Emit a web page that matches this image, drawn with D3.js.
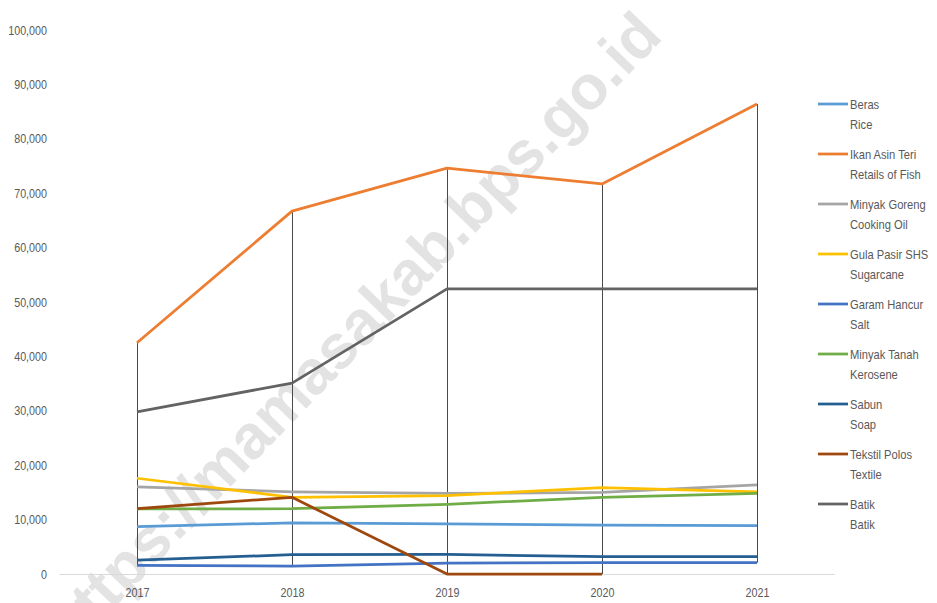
<!DOCTYPE html>
<html>
<head>
<meta charset="utf-8">
<script src="https://cdn.jsdelivr.net/npm/d3@7"></script>
<style>
  body { margin: 0; background: #fff; }
  svg text { font-family: "Liberation Sans", Arial, sans-serif; fill: #595959; }
</style>
</head>
<body>
<svg id="chart" width="937" height="603"></svg>
<script>
// data
var years = ["2017", "2018", "2019", "2020", "2021"];
var yTicks = [0, 10000, 20000, 30000, 40000, 50000, 60000, 70000, 80000, 90000, 100000];

var names = ["Beras", "Ikan Asin Teri", "Minyak Goreng", "Gula Pasir SHS", "Garam Hancur",
             "Minyak Tanah", "Sabun", "Tekstil Polos", "Batik"];
var namesEn = ["Rice", "Retails of Fish", "Cooking Oil", "Sugarcane", "Salt",
               "Kerosene", "Soap", "Textile", "Batik"];
var colors = ["#5B9BD5", "#ED7D31", "#A5A5A5", "#FFC000", "#4472C4",
              "#70AD47", "#255E91", "#9E480E", "#636363"];

var beras = [8700, 9400, 9200, 9000, 8900];
var ikanAsin = [42500, 66700, 74600, 71700, 86400];
var minyakGoreng = [16000, 15100, 14800, 15000, 16400];
var gulaPasir = [17600, 14100, 14400, 15900, 15100];
var garam = [1600, 1450, 2000, 2100, 2100];
var minyakTanah = [11950, 12000, 12800, 14100, 14800];
var sabun = [2550, 3550, 3600, 3200, 3200];
var tekstil = [12000, 14100, 0, 0, null];
var batik = [29800, 35100, 52400, 52400, 52400];

var seriesValues = [beras, ikanAsin, minyakGoreng, gulaPasir, garam, minyakTanah, sabun, tekstil, batik];

// no narrow font installed, so squeeze text a bit to look like Calibri
var squeeze = "scale(0.86,1)";

var svg = d3.select("#chart");

var x = d3.scalePoint().domain(years).range([59.5, 834.5]).padding(0.5);
var y = d3.scaleLinear().domain([0, 100000]).range([574, 30]);

// watermark
svg.append("text")
    .attr("transform", "translate(352,330) rotate(-46)")
    .attr("text-anchor", "middle")
    .attr("dominant-baseline", "central")
    .style("font-weight", "bold")
    .style("font-size", "62px")
    .style("fill", "#e3e3e3")
    .text("https://mamasakab.bps.go.id");

// y axis labels
var yAxis = d3.axisLeft(y).tickValues(yTicks).tickSize(0).tickPadding(0)
    .tickFormat(d3.format(","));
var gy = svg.append("g").attr("transform", "translate(47,0)").call(yAxis);
gy.select(".domain").remove();
gy.selectAll("text")
    .attr("transform", squeeze)
    .style("font-size", "12.5px").style("fill", "#595959");

// x axis
var xAxis = d3.axisBottom(x).tickSize(0).tickPadding(14);
var gx = svg.append("g").attr("transform", "translate(0,574)").call(xAxis);
gx.select(".domain").attr("d", "M59.5,0.5H834.5").style("stroke", "#d9d9d9");
gx.selectAll("text")
    .attr("transform", squeeze)
    .style("font-size", "12.5px").style("fill", "#595959");

// high-low lines
var hiLo = years.map(function (yr, i) {
    var vals = seriesValues.map(function (s) { return s[i]; })
        .filter(function (v) { return v !== null; });
    return { year: yr, hi: d3.max(vals), lo: d3.min(vals) };
});
svg.append("g").selectAll("line").data(hiLo).enter().append("line")
    .attr("x1", function (d) { return x(d.year) + 0.5; })
    .attr("x2", function (d) { return x(d.year) + 0.5; })
    .attr("y1", function (d) { return y(d.hi); })
    .attr("y2", function (d) { return y(d.lo); })
    .style("stroke", "#4a4a4a")
    .style("stroke-width", 1);

// series lines
var line = d3.line()
    .defined(function (d) { return d !== null; })
    .x(function (d, i) { return x(years[i]); })
    .y(function (d) { return y(d); });

svg.append("g").selectAll("path").data(seriesValues).enter().append("path")
    .attr("d", function (d) { return line(d); })
    .style("fill", "none")
    .style("stroke", function (d, i) { return colors[i]; })
    .style("stroke-width", 2.75)
    .style("stroke-linejoin", "round");

// legend
var legend = svg.append("g").selectAll("g").data(names).enter().append("g")
    .attr("transform", function (d, i) { return "translate(818," + (104 + i * 50) + ")"; });
legend.append("line")
    .attr("x1", 0).attr("x2", 30).attr("y1", 0).attr("y2", 0)
    .style("stroke", function (d, i) { return colors[i]; })
    .style("stroke-width", 2.75);
var lt = legend.append("g").attr("transform", "translate(32,0) " + squeeze);
lt.append("text")
    .attr("x", 0).attr("y", 0).attr("dy", "0.35em")
    .style("font-size", "13px")
    .text(function (d) { return d; });
lt.append("text")
    .attr("x", 0).attr("y", 20).attr("dy", "0.35em")
    .style("font-size", "13px")
    .text(function (d, i) { return namesEn[i]; });
</script>
</body>
</html>
